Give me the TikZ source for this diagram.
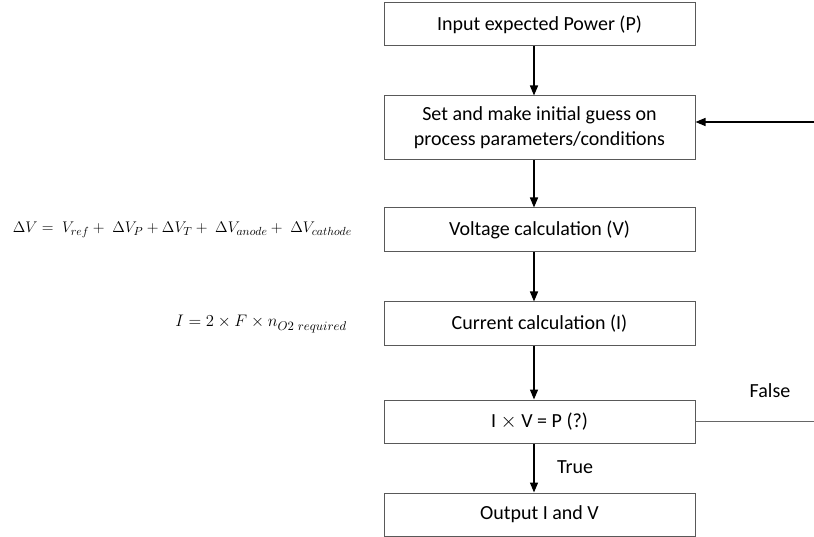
\documentclass[tikz,border=0pt]{standalone}
\usepackage{fontspec}
\usepackage{graphicx}
\setmainfont{Carlito}
\usetikzlibrary{arrows.meta}
\tikzset{
  flowbox/.style={draw=black!65, line width=1pt, fill=white, minimum width=311pt, inner sep=0pt, align=center, font=\fontsize{20}{25}\selectfont},
  flowarrow/.style={draw=black, line width=1.4pt, -{Triangle[width=8pt,length=10pt]}},
  plainline/.style={draw=black!60, line width=1pt},
  eqlabel/.style={font=\fontsize{15}{18}\selectfont, inner sep=0pt},
  edgelabel/.style={font=\fontsize{20}{25}\selectfont, inner sep=0pt}
}
\begin{document}
\begin{tikzpicture}[x=1pt,y=-1pt]
\useasboundingbox (0,0) rectangle (814,537);
\node[flowbox, minimum height=43pt] (b1) at (539.5,24.5) {Input expected Power (P)};
\node[flowbox, minimum height=64pt] (b2) at (539.5,128) {Set and make initial guess on\\process parameters/conditions};
\node[flowbox, minimum height=44pt] (b3) at (539.5,230) {Voltage calculation (V)};
\node[flowbox, minimum height=44pt] (b4) at (539.5,324) {Current calculation (I)};
\node[flowbox, minimum height=43pt] (b5) at (539.5,421.5) {I $\times$ V = P (?)};
\node[flowbox, minimum height=43pt] (b6) at (539.5,514.5) {Output I and V};

\node[eqlabel, anchor=east] (eqv) at (352,230) {\scalebox{1.07}{$\Delta V =\; V_{ref} +\; \Delta V_P + \Delta V_T +\; \Delta V_{anode} +\; \Delta V_{cathode}$}};
\node[eqlabel, anchor=east] (eqi) at (347,324) {\scalebox{1.16}{$I = 2 \times F \times n_{O2\ required}$}};

\node[edgelabel] (lfalse) at (770,391) {False};
\node[edgelabel] (ltrue) at (575,467) {True};

\coordinate (fb1) at (814,122);
\coordinate (fb2) at (814,421.5);

\draw[flowarrow] ([xshift=-5.5pt]b1.south) -- ([xshift=-5.5pt]b2.north);
\draw[flowarrow] ([xshift=-5.5pt]b2.south) -- ([xshift=-5.5pt]b3.north);
\draw[flowarrow] ([xshift=-5.5pt]b3.south) -- ([xshift=-5.5pt]b4.north);
\draw[flowarrow] ([xshift=-5.5pt]b4.south) -- ([xshift=-5.5pt]b5.north);
\draw[flowarrow] ([xshift=-5.5pt]b5.south) -- ([xshift=-5.5pt]b6.north);
\draw[flowarrow] (fb1) -- (fb1 -| b2.east);
\draw[plainline] (b5.east) -- (fb2);
\end{tikzpicture}
\end{document}
